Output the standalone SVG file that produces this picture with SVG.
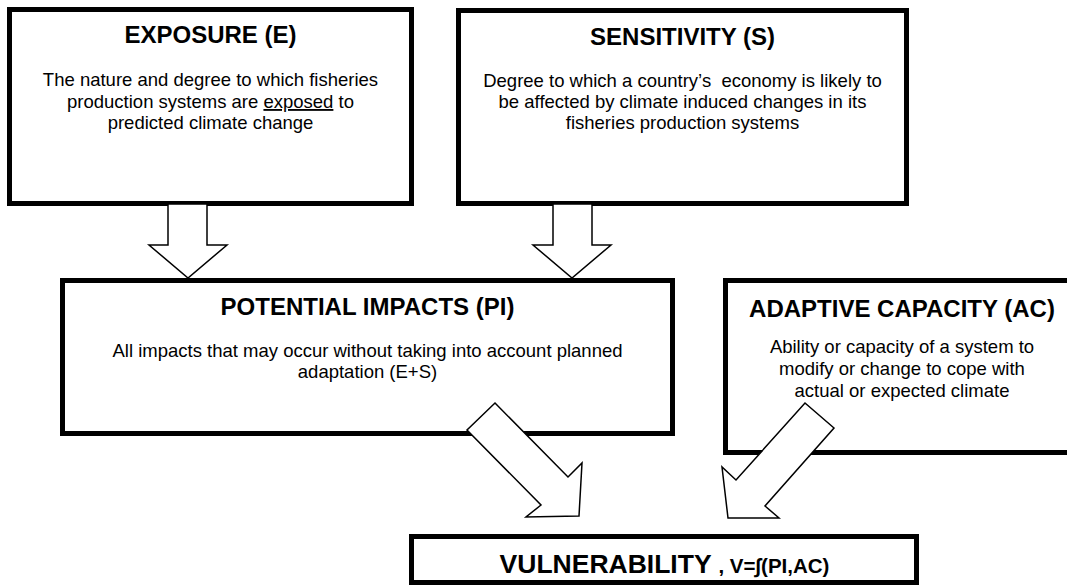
<svg xmlns="http://www.w3.org/2000/svg" width="1067" height="588" viewBox="0 0 1067 588">
<style>
.box{fill:#fff;stroke:#000;stroke-width:5}
.t{font-family:"Liberation Sans",Arial,sans-serif;font-weight:bold;font-size:24px;text-anchor:middle;fill:#000}
.b{font-family:"Liberation Sans",Arial,sans-serif;font-size:18.5px;text-anchor:middle;fill:#000}
.arr{fill:#fff;stroke:#000;stroke-width:1.5;stroke-linejoin:miter}
</style>
<rect width="1067" height="588" fill="#fff"/>
<g id="exposure">
<rect class="box" x="9.5" y="9.5" width="402" height="194"/>
<text class="t" x="210.5" y="43">EXPOSURE (E)</text>
<text class="b" x="210.5" y="86">The nature and degree to which fisheries</text>
<text class="b" x="210.5" y="108">production systems are <tspan text-decoration="underline">exposed</tspan> to</text>
<text class="b" x="210.5" y="129">predicted climate change</text>
</g>
<g id="sensitivity">
<rect class="box" x="458.5" y="10.5" width="448" height="193"/>
<text class="t" x="682.5" y="45">SENSITIVITY (S)</text>
<text class="b" x="682.5" y="87" xml:space="preserve">Degree to which a country’s  economy is likely to</text>
<text class="b" x="682.5" y="108">be affected by climate induced changes in its</text>
<text class="b" x="682.5" y="129">fisheries production systems</text>
</g>
<g id="potential-impacts">
<rect class="box" x="62.5" y="280.5" width="610" height="153"/>
<text class="t" x="367.5" y="315">POTENTIAL IMPACTS (PI)</text>
<text class="b" x="367.5" y="357">All impacts that may occur without taking into account planned</text>
<text class="b" x="367.5" y="378">adaptation (E+S)</text>
</g>
<g id="adaptive-capacity">
<rect class="box" x="725.5" y="280.5" width="400" height="172"/>
<text class="t" x="902" y="317">ADAPTIVE CAPACITY (AC)</text>
<text class="b" x="902" y="353">Ability or capacity of a system to</text>
<text class="b" x="902" y="375">modify or change to cope with</text>
<text class="b" x="902" y="397">actual or expected climate</text>
</g>
<g id="vulnerability">
<rect class="box" x="411.5" y="536.5" width="505" height="46"/>
<text class="t" x="664.5" y="573" style="font-size:26.5px">VULNERABILITY <tspan style="font-size:20.5px">, V=∫(PI,AC)</tspan></text>
</g>
<g id="connectors">
<polygon class="arr" points="168,204 168,245 149,245 188,278 227,245 207,245 207,204"/>
<polygon class="arr" points="553,204 553,245 533,245 572,278 611,245 592,245 592,204"/>
<polygon class="arr" points="495,403 568,477 582,463 579,516 526,517 541,505 467,430"/>
<polygon class="arr" points="805,403 834,428 765,506 779,518 728,518 722,467 736,480"/>
</g>
</svg>
